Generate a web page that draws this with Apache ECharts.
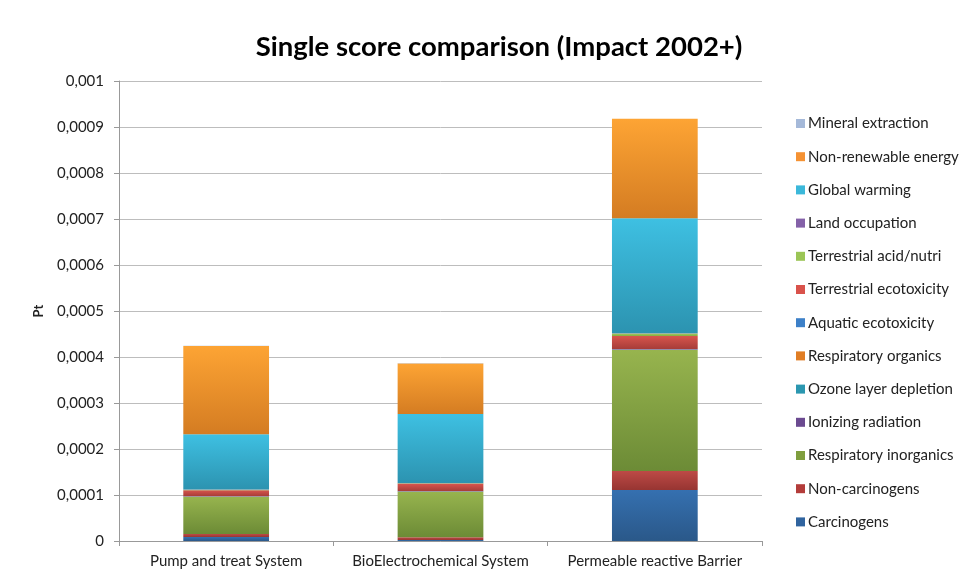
<!DOCTYPE html>
<html>
<head>
<meta charset="utf-8">
<script src="https://cdn.jsdelivr.net/npm/echarts@6/dist/echarts.min.js"></script>
<style>html,body{margin:0;padding:0;background:#fff}#c{width:971px;height:581px}</style>
</head>
<body>
<div id="c"></div>
<script>
const categories = ['Pump and treat System', 'BioElectrochemical System', 'Permeable reactive Barrier'];
const yTicks = [0, 0.0001, 0.0002, 0.0003, 0.0004, 0.0005, 0.0006, 0.0007, 0.0008, 0.0009, 0.001];

const carcinogens = [0.0000087, 0.000002, 0.000111];
const nonCarcinogens = [0.0000065, 0.000006, 0.000041];
const respiratoryInorganics = [0.000081, 0.000099, 0.000263];
const ionizingRadiation = [0.0000003, 0.0000003, 0.0000005];
const ozoneLayerDepletion = [0.0000001, 0.0000001, 0.0000001];
const respiratoryOrganics = [0.0000002, 0.0000002, 0.0000003];
const aquaticEcotoxicity = [0.0000006, 0.0000006, 0.000001];
const terrestrialEcotoxicity = [0.000013, 0.000016, 0.000029];
const terrestrialAcidNutri = [0.0000012, 0.0000012, 0.000005];
const landOccupation = [0.0000005, 0.0000005, 0.0000008];
const globalWarming = [0.00012, 0.00015, 0.00025];
const nonRenewableEnergy = [0.000192, 0.00011, 0.000216];
const mineralExtraction = [0.0000003, 0.0000003, 0.0000005];

const seriesDefs = [
  ['Carcinogens', carcinogens, '#3570b0', '#2a5889', '#30649f'],
  ['Non-carcinogens', nonCarcinogens, '#bd4a46', '#973532', '#b33c3a'],
  ['Respiratory inorganics', respiratoryInorganics, '#97b44e', '#6c8b36', '#7f9e3e'],
  ['Ionizing radiation', ionizingRadiation, '#7a58a0', '#5c3f80', '#6b4a90'],
  ['Ozone layer depletion', ozoneLayerDepletion, '#2fa2bb', '#23809a', '#2b97b0'],
  ['Respiratory organics', respiratoryOrganics, '#ea8a2e', '#c66e1e', '#e07d24'],
  ['Aquatic ecotoxicity', aquaticEcotoxicity, '#4a8bd0', '#3570b0', '#3d80c8'],
  ['Terrestrial ecotoxicity', terrestrialEcotoxicity, '#d8554d', '#a63c38', '#d9524b'],
  ['Terrestrial acid/nutri', terrestrialAcidNutri, '#a6cc5c', '#86ad44', '#9bc556'],
  ['Land occupation', landOccupation, '#9070b4', '#70529a', '#8461a8'],
  ['Global warming', globalWarming, '#3ec0e2', '#2c93b0', '#3bb8da'],
  ['Non-renewable energy', nonRenewableEnergy, '#fda434', '#d47c22', '#f59233'],
  ['Mineral extraction', mineralExtraction, '#b0c3e0', '#90a6c8', '#a5b9d9']
];

const series = seriesDefs.map(([name, data, top, bottom, legendCol]) => ({
  name: name,
  type: 'bar',
  stack: 'total',
  data: data,
  barWidth: '40%',
  itemStyle: {
    color: {
      type: 'linear', x: 0, y: 0, x2: 0, y2: 1,
      colorStops: [{offset: 0, color: top}, {offset: 1, color: bottom}]
    }
  },
  emphasis: {disabled: true}
}));

const legendData = seriesDefs.slice().reverse().map(([name, , , , legendCol]) => ({
  name: name,
  itemStyle: {color: legendCol}
}));

const chart = echarts.init(document.getElementById('c'), null, {renderer: 'canvas'});
chart.setOption({
  animation: false,
  backgroundColor: '#ffffff',
  textStyle: {fontFamily: 'Lato'},
  title: {
    text: 'Single score comparison (Impact 2002+)',
    left: 494, top: 28, textAlign: 'center',
    textStyle: {fontFamily: 'Lato', fontWeight: 'bold', fontSize: 27.5, color: '#000'}
  },
  legend: {
    orient: 'vertical',
    left: 791, top: 110,
    itemWidth: 9, itemHeight: 9, itemGap: 16.2,
    icon: 'rect',
    data: legendData,
    textStyle: {fontFamily: 'Lato', fontSize: 15, lineHeight: 17, color: '#222', padding: [0, 0, 0, -2]}
  },
  grid: {left: 119, right: 209, top: 81, bottom: 40},
  xAxis: {
    type: 'category',
    data: categories,
    axisLine: {lineStyle: {color: '#999'}},
    axisTick: {show: true, length: 5, lineStyle: {color: '#999'}},
    axisLabel: {fontFamily: 'Lato', fontSize: 15, color: '#222', margin: 13, interval: 0, hideOverlap: false}
  },
  yAxis: {
    type: 'value',
    min: 0, max: 0.001, interval: 0.0001,
    name: 'Pt',
    nameLocation: 'middle',
    nameGap: 74,
    nameRotate: 90,
    nameTextStyle: {fontFamily: 'Lato', fontWeight: 'bold', fontSize: 13, color: '#222'},
    axisLine: {show: true, lineStyle: {color: '#999'}},
    axisTick: {show: true, length: 5, lineStyle: {color: '#999'}},
    splitLine: {lineStyle: {color: '#bdbdbd', width: 1}},
    axisLabel: {
      fontFamily: 'Lato', fontSize: 15, color: '#222', margin: 15,
      formatter: function (v) {
        let best = yTicks.reduce((a, b) => Math.abs(b - v) < Math.abs(a - v) ? b : a);
        let s = best.toFixed(4).replace(/0+$/, '').replace(/\.$/, '');
        return s.replace('.', ',');
      }
    }
  },
  series: series
});
</script>
</body>
</html>
